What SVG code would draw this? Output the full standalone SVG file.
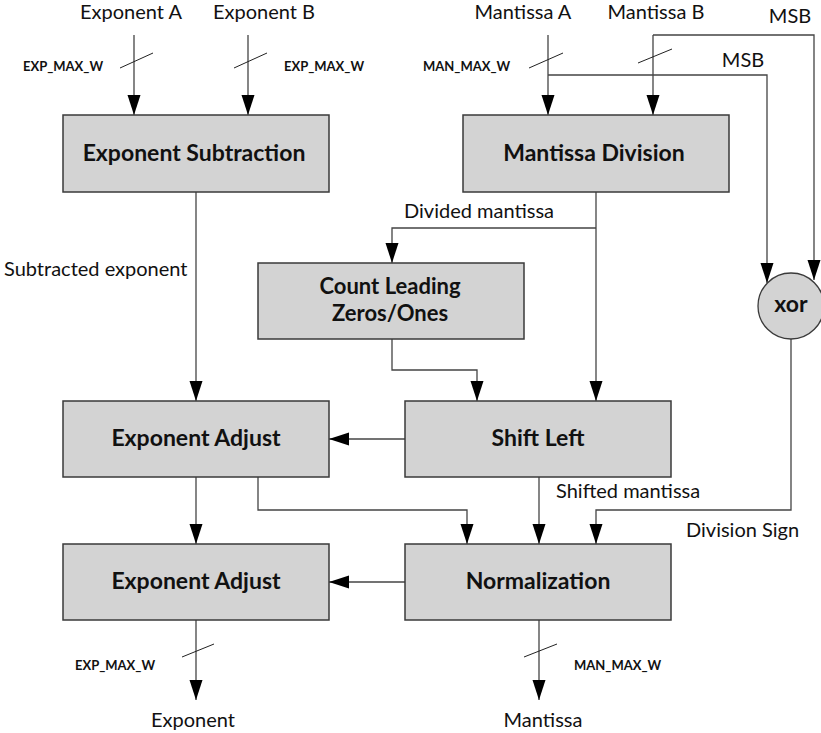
<svg xmlns="http://www.w3.org/2000/svg" width="821" height="733" viewBox="0 0 821 733">
  <defs>
    <marker id="arrow" markerUnits="userSpaceOnUse" markerWidth="20" markerHeight="14" refX="20" refY="6.5" orient="auto">
      <path d="M0,0 L20,6.5 L0,13 z" fill="#000"/>
    </marker>
    <style>
      .box { fill: #d3d3d3; stroke: #3a3a3a; stroke-width: 1.5; }
      .title { font-family: Lato, "Liberation Sans", sans-serif; font-weight: bold; font-size: 23px; fill: #111; text-anchor: middle; }
      .title2 { font-size: 22px; }
      .lbl { font-family: Lato, "Liberation Sans", sans-serif; font-size: 20px; fill: #111; }
      .w { font-family: Lato, "Liberation Sans", sans-serif; font-weight: bold; font-size: 13px; fill: #111; }
      .wire { fill: none; stroke: #444; stroke-width: 1.3; }
      .arr { marker-end: url(#arrow); }
      .slash { stroke: #222; stroke-width: 1; }
    </style>
  </defs>
  <rect width="821" height="733" fill="#fff"/>

  <g id="connectors">
    <!-- inputs -->
    <line class="wire arr" x1="134" y1="35" x2="134" y2="115"/>
    <line class="wire arr" x1="248" y1="35" x2="248" y2="115"/>
    <line class="wire arr" x1="548" y1="35" x2="548" y2="115"/>
    <line class="wire arr" x1="653" y1="35" x2="653" y2="115"/>
    <!-- sign bits to xor -->
    <polyline class="wire arr" points="653,35 814,35 814,280"/>
    <polyline class="wire arr" points="548,75 767,75 767,283"/>
    <!-- exponent path -->
    <line class="wire arr" x1="196" y1="192" x2="196" y2="401"/>
    <line class="wire arr" x1="196" y1="477" x2="196" y2="544"/>
    <polyline class="wire arr" points="258,477 258,510 467,510 467,544"/>
    <line class="wire arr" x1="196" y1="620" x2="196" y2="700"/>
    <!-- mantissa path -->
    <line class="wire arr" x1="596" y1="192" x2="596" y2="401"/>
    <polyline class="wire arr" points="596,228 392,228 392,263"/>
    <polyline class="wire arr" points="392,339 392,370 477,370 477,401"/>
    <line class="wire arr" x1="405" y1="439" x2="329" y2="439"/>
    <line class="wire arr" x1="539" y1="477" x2="539" y2="544"/>
    <polyline class="wire arr" points="791,339 791,510 596,510 596,544"/>
    <line class="wire arr" x1="405" y1="582" x2="329" y2="582"/>
    <line class="wire arr" x1="539" y1="620" x2="539" y2="700"/>
    <!-- bus width marks -->
    <line class="slash" x1="120" y1="68" x2="153" y2="53"/>
    <line class="slash" x1="234" y1="68" x2="267" y2="53"/>
    <line class="slash" x1="529" y1="68" x2="563" y2="53"/>
    <line class="slash" x1="638" y1="63" x2="672" y2="49"/>
    <line class="slash" x1="182" y1="657" x2="214" y2="644"/>
    <line class="slash" x1="524" y1="657" x2="557" y2="644"/>
  </g>

  <g id="labels">
    <text class="lbl" x="131" y="19" text-anchor="middle">Exponent A</text>
    <text class="lbl" x="264" y="19" text-anchor="middle">Exponent B</text>
    <text class="lbl" x="523" y="19" text-anchor="middle">Mantissa A</text>
    <text class="lbl" x="656" y="19" text-anchor="middle">Mantissa B</text>
    <text class="lbl" x="790" y="23" text-anchor="middle">MSB</text>
    <text class="lbl" x="743" y="67" text-anchor="middle">MSB</text>
    <text class="w" x="23" y="71">EXP_MAX_W</text>
    <text class="w" x="284" y="71">EXP_MAX_W</text>
    <text class="w" x="423" y="71">MAN_MAX_W</text>
    <text class="lbl" x="4" y="276">Subtracted exponent</text>
    <text class="lbl" x="404" y="218">Divided mantissa</text>
    <text class="lbl" x="556" y="498">Shifted mantissa</text>
    <text class="lbl" x="686" y="537">Division Sign</text>
    <text class="w" x="75" y="670">EXP_MAX_W</text>
    <text class="w" x="574" y="670">MAN_MAX_W</text>
    <text class="lbl" x="193" y="727" text-anchor="middle">Exponent</text>
    <text class="lbl" x="543" y="727" text-anchor="middle">Mantissa</text>
  </g>

  <g id="exp-sub">
    <rect class="box" x="63" y="115" width="266" height="77"/>
    <text class="title" x="194" y="161">Exponent Subtraction</text>
  </g>
  <g id="man-div">
    <rect class="box" x="463" y="115" width="266" height="77"/>
    <text class="title" x="594" y="161">Mantissa Division</text>
  </g>
  <g id="clz">
    <rect class="box" x="258" y="263" width="266" height="76"/>
    <text class="title title2" x="390" y="293.5">Count Leading</text>
    <text class="title title2" x="390" y="320.5">Zeros/Ones</text>
  </g>
  <g id="xor">
    <circle cx="791" cy="306" r="33" fill="#d3d3d3" stroke="#3a3a3a" stroke-width="1.3"/>
    <text class="title" x="791" y="312">xor</text>
  </g>
  <g id="exp-adj-1">
    <rect class="box" x="63" y="401" width="266" height="76"/>
    <text class="title" x="196" y="446">Exponent Adjust</text>
  </g>
  <g id="shift-left">
    <rect class="box" x="405" y="401" width="266" height="76"/>
    <text class="title" x="538" y="446">Shift Left</text>
  </g>
  <g id="exp-adj-2">
    <rect class="box" x="63" y="544" width="266" height="76"/>
    <text class="title" x="196" y="589">Exponent Adjust</text>
  </g>
  <g id="normalization">
    <rect class="box" x="405" y="544" width="266" height="76"/>
    <text class="title" x="538" y="589">Normalization</text>
  </g>
</svg>
